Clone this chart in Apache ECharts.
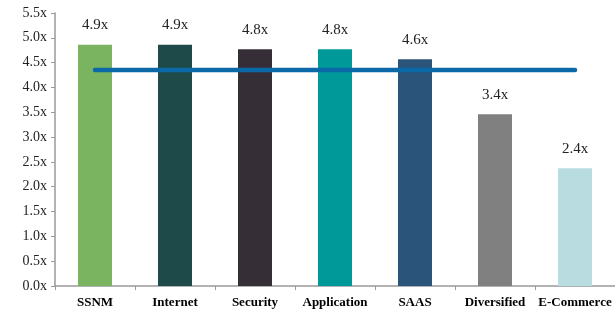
<!DOCTYPE html>
<html>
<head>
<meta charset="utf-8">
<script src="https://cdn.jsdelivr.net/npm/echarts@6/dist/echarts.min.js"></script>
<style>
  html, body { margin: 0; padding: 0; background: #fff; }
  #chart { width: 615px; height: 314px; }
</style>
</head>
<body>
<div id="chart"></div>
<script>
// data
const categories = ['SSNM', 'Internet', 'Security', 'Application', 'SAAS', 'Diversified', 'E-Commerce'];
const multiples = [4.86, 4.86, 4.77, 4.77, 4.57, 3.46, 2.37];
const barLabels = ['4.9x', '4.9x', '4.8x', '4.8x', '4.6x', '3.4x', '2.4x'];
const average = [4.35, 4.35, 4.35, 4.35, 4.35, 4.35, 4.35];
const barColors = ['#7bb461', '#1f4a4a', '#362e37', '#009999', '#2a5479', '#808080', '#b9dce0'];

const chart = echarts.init(document.getElementById('chart'));

const option = {
  animation: false,
  grid: {
    left: 55,
    right: 0,
    top: 13,
    bottom: 28
  },
  xAxis: {
    type: 'category',
    data: categories,
    axisLine: { lineStyle: { color: '#999', width: 1.5 } },
    axisTick: { show: true, length: 4, lineStyle: { color: '#999' } },
    axisLabel: {
      color: '#000',
      fontFamily: 'Liberation Serif',
      fontWeight: 'bold',
      fontSize: 13,
      margin: 10,
      interval: 0
    }
  },
  yAxis: {
    type: 'value',
    min: 0,
    max: 5.5,
    interval: 0.5,
    splitLine: { show: false },
    axisLine: { show: true, lineStyle: { color: '#999', width: 1.5 } },
    axisTick: { show: true, length: 4, lineStyle: { color: '#999' } },
    axisLabel: {
      color: '#222',
      fontFamily: 'Liberation Serif',
      fontSize: 14,
      margin: 8,
      formatter: v => v.toFixed(1) + 'x'
    }
  },
  series: [
    {
      type: 'bar',
      data: multiples.map((v, i) => ({ value: v, itemStyle: { color: barColors[i] } })),
      barWidth: 34,
      label: {
        show: true,
        position: 'top',
        distance: 12,
        color: '#222',
        fontFamily: 'Liberation Serif',
        fontSize: 15,
        formatter: p => barLabels[p.dataIndex]
      }
    },
    {
      type: 'line',
      data: average,
      showSymbol: false,
      lineStyle: { color: '#0b69a8', width: 4.5, cap: 'round' },
      z: 5
    }
  ]
};

chart.setOption(option);
</script>
</body>
</html>
